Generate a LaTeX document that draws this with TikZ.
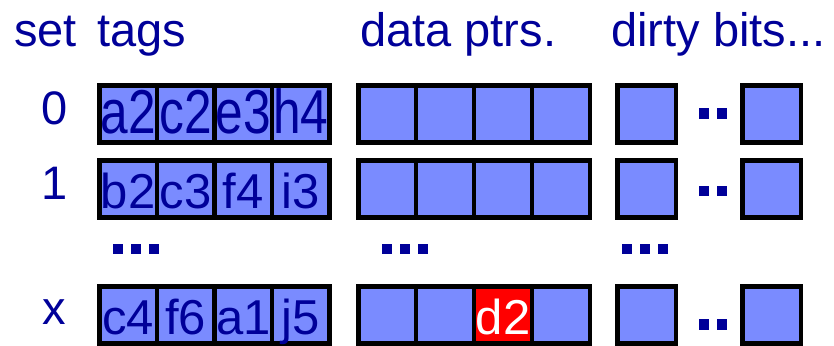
\documentclass[tikz,border=0pt]{standalone}
\usepackage{fontspec}
\setmainfont{Liberation Sans}
\usepackage{graphicx}
\usepackage{tikz}
\definecolor{cellblue}{RGB}{122,139,255}
\definecolor{inkblue}{RGB}{0,0,153}
\newcommand{\tagsq}[1]{\scalebox{0.8}[1]{#1}}

\begin{document}
\begin{tikzpicture}[x=1pt,y=-1pt,
    cell/.style={draw=black,line width=4.5pt,fill=cellblue,minimum height=57pt,
      inner sep=0pt,text depth=0pt,text height=39pt,text=inkblue,
      font=\fontsize{49}{49}\selectfont},
    bigcell/.style={text height=38pt,font=\fontsize{62}{62}\selectfont},
    tagcell/.style={cell,minimum width=57.6pt},
    ptrcell/.style={cell,minimum width=57.9pt},
    bitcell/.style={cell,minimum width=58.5pt},
    head/.style={anchor=base west,inner sep=0pt,text=inkblue,font=\fontsize{47}{47}\selectfont},
    setno/.style={anchor=base,inner sep=0pt,text=inkblue,font=\fontsize{47}{47}\selectfont},
    dot/.style={fill=inkblue}]
        \useasboundingbox (0,0) rectangle (834,345);
        % column heads
        \node[head] (hset) at (14,46) {set};
        \node[head] (htags) at (97,46) {tags};
        \node[head] (hptrs) at (360,46) {data ptrs.};
        \node[head] (hbits) at (611,46) {dirty bits...};
        % set 0
        \node[setno] (s0) at (55,124) {0};
        \node[tagcell,bigcell] (t0a) at (128.05,114) {\tagsq{a2}};
        \node[tagcell,bigcell] (t0b) at (185.65,114) {\tagsq{c2}};
        \node[tagcell,bigcell] (t0c) at (243.25,114) {\tagsq{e3}};
        \node[tagcell,bigcell] (t0d) at (300.85,114) {\tagsq{h4}};
        \node[ptrcell] (p0a) at (387.2,114) {};
        \node[ptrcell] (p0b) at (445.1,114) {};
        \node[ptrcell] (p0c) at (503.0,114) {};
        \node[ptrcell] (p0d) at (560.8,114) {};
        \node[bitcell] (b0a) at (646.5,114) {};
        \node[bitcell] (b0b) at (771.5,114) {};
        \fill[dot] (699,108) rectangle (709,119);
        \fill[dot] (717,108) rectangle (727,119);
        % set 1
        \node[setno] (s1) at (55,199) {1};
        \node[tagcell] (t1a) at (128.05,189) {b2};
        \node[tagcell] (t1b) at (185.65,189) {c3};
        \node[tagcell] (t1c) at (243.25,189) {f4};
        \node[tagcell] (t1d) at (300.85,189) {i3};
        \node[ptrcell] (p1a) at (387.2,189) {};
        \node[ptrcell] (p1b) at (445.1,189) {};
        \node[ptrcell] (p1c) at (503.0,189) {};
        \node[ptrcell] (p1d) at (560.8,189) {};
        \node[bitcell] (b1a) at (646.5,189) {};
        \node[bitcell] (b1b) at (771.5,189) {};
        \fill[dot] (699,186) rectangle (709,196);
        \fill[dot] (717,186) rectangle (727,196);
        % skipped sets
        \fill[dot] (113,244) rectangle (123,254);
        \fill[dot] (131,244) rectangle (141,254);
        \fill[dot] (149,244) rectangle (159,254);
        \fill[dot] (382,244) rectangle (392,254);
        \fill[dot] (400,244) rectangle (410,254);
        \fill[dot] (418,244) rectangle (428,254);
        \fill[dot] (622,244) rectangle (632,254);
        \fill[dot] (640,244) rectangle (650,254);
        \fill[dot] (658,244) rectangle (668,254);
        % set x
        \node[setno] (sx) at (54,324) {x};
        \node[tagcell] (txa) at (128.05,314.75) {c4};
        \node[tagcell] (txb) at (185.65,314.75) {f6};
        \node[tagcell] (txc) at (243.25,314.75) {a1};
        \node[tagcell] (txd) at (300.85,314.75) {j5};
        \node[ptrcell] (pxa) at (387.2,314.75) {};
        \node[ptrcell] (pxb) at (445.1,314.75) {};
        \node[ptrcell,fill=red,text=white] (pxc) at (503.0,314.75) {d2};
        \node[ptrcell] (pxd) at (560.8,314.75) {};
        \node[bitcell] (bxa) at (646.5,314.75) {};
        \node[bitcell] (bxb) at (771.5,314.75) {};
        \fill[dot] (699,319) rectangle (709,330);
        \fill[dot] (717,319) rectangle (727,330);
      \end{tikzpicture}
\end{document}
